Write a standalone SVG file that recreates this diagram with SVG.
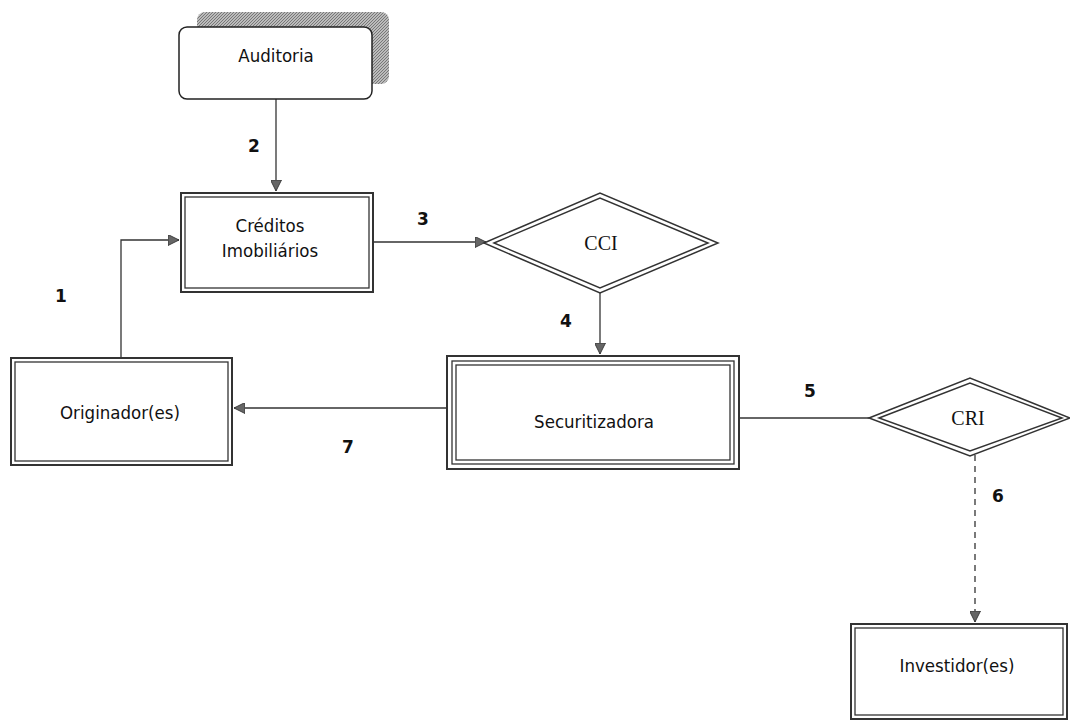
<svg xmlns="http://www.w3.org/2000/svg" width="1070" height="720" viewBox="0 0 1070 720">
<style>
.box{fill:#fff;stroke:#333;stroke-width:2}
.inner{fill:none;stroke:#333;stroke-width:1.3}
.lbl{font-family:"DejaVu Sans",Verdana,sans-serif;font-size:17px;font-weight:bold;fill:#111}
.txt{font-family:"DejaVu Sans Condensed","DejaVu Sans",sans-serif;font-size:18.5px;fill:#111;text-anchor:middle;dominant-baseline:central}
.srf{font-family:"Liberation Serif",serif;font-size:20px;fill:#111;text-anchor:middle;dominant-baseline:central}
.con{fill:none;stroke:#333;stroke-width:1.3}
</style>
<defs>
<pattern id="hatch" width="3" height="3" patternUnits="userSpaceOnUse">
<rect width="3" height="3" fill="#bbb"/>
<path d="M0 3L3 0" stroke="#777" stroke-width="1"/>
</pattern>
<marker id="ah" viewBox="0 0 10 10" refX="10" refY="5" markerWidth="11" markerHeight="11" markerUnits="userSpaceOnUse" orient="auto">
<path d="M0 0L10 5L0 10z" fill="#666" stroke="#333" stroke-width="0.8"/>
</marker>
</defs>
<rect width="1070" height="720" fill="#fff"/>
<g id="connectors">
<line class="con" x1="276" y1="99" x2="276" y2="191" marker-end="url(#ah)"/>
<polyline class="con" points="121,357 121,240 179,240" marker-end="url(#ah)"/>
<line class="con" x1="373" y1="242" x2="486" y2="242" marker-end="url(#ah)"/>
<line class="con" x1="600" y1="293" x2="600" y2="354" marker-end="url(#ah)"/>
<line class="con" x1="447" y1="408" x2="234" y2="408" marker-end="url(#ah)"/>
<line class="con" x1="739" y1="418" x2="869" y2="418"/>
<line class="con" x1="975" y1="455" x2="975" y2="622" stroke-dasharray="6,5" marker-end="url(#ah)"/>
<text class="lbl" x="248" y="152">2</text>
<text class="lbl" x="55" y="302">1</text>
<text class="lbl" x="417" y="225">3</text>
<text class="lbl" x="560" y="327">4</text>
<text class="lbl" x="342" y="453">7</text>
<text class="lbl" x="804" y="397">5</text>
<text class="lbl" x="992" y="502">6</text>
</g>
<g id="auditoria">
<rect x="197" y="12" width="192" height="72" rx="8" fill="url(#hatch)"/>
<rect x="179" y="27" width="193" height="72" rx="8" fill="#fff" stroke="#222" stroke-width="1.5"/>
<text class="txt" x="276" y="55">Auditoria</text>
</g>
<g id="creditos">
<rect class="box" x="181" y="193" width="192" height="99"/>
<rect class="inner" x="185" y="197" width="184" height="91"/>
<text class="txt" x="270" y="225">Créditos</text>
<text class="txt" x="270" y="250">Imobiliários</text>
</g>
<g id="cci">
<polygon points="484,243 600,193 718,243 600,293" fill="#fff" stroke="#333" stroke-width="1.5"/>
<polygon points="494,243 600,198 708,243 600,288" fill="none" stroke="#333" stroke-width="1.5"/>
<text class="srf" x="601" y="243">CCI</text>
</g>
<g id="securitizadora">
<rect class="box" x="447" y="356" width="292" height="113" stroke-width="2.5"/>
<rect class="inner" x="452" y="361" width="282" height="103"/>
<rect class="inner" x="456" y="365" width="274" height="95"/>
<text class="txt" x="594" y="421">Securitizadora</text>
</g>
<g id="originador">
<rect class="box" x="11" y="358" width="221" height="107"/>
<rect class="inner" x="15" y="362" width="213" height="99"/>
<text class="txt" x="120" y="412">Originador(es)</text>
</g>
<g id="cri">
<polygon points="869,418 970,378 1070,418 970,456" fill="#fff" stroke="#333" stroke-width="1.5"/>
<polygon points="879,418 970,383 1062,418 970,451" fill="none" stroke="#333" stroke-width="1.5"/>
<text class="srf" x="968" y="418">CRI</text>
</g>
<g id="investidor">
<rect class="box" x="851" y="624" width="216" height="95"/>
<rect class="inner" x="855" y="628" width="208" height="87"/>
<text class="txt" x="957" y="665">Investidor(es)</text>
</g>
</svg>
